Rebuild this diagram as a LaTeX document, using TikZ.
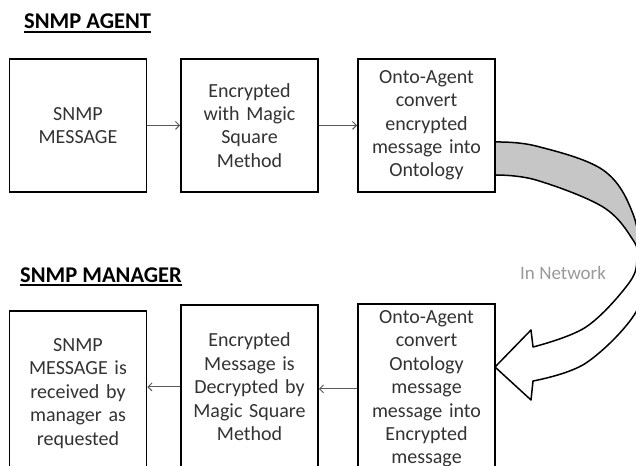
\documentclass[tikz,border=0pt]{standalone}
\usepackage{fontspec}
\setmainfont{Carlito}
\usetikzlibrary{arrows.meta,calc}
\definecolor{txt}{HTML}{333333}
\definecolor{conncol}{HTML}{595959}
\definecolor{bandgray}{HTML}{C6C6C6}
\definecolor{netgray}{HTML}{9A9A9A}
\newcommand\netarrowpath{plot[smooth,tension=0.6] coordinates {(495,142) (536,146) (603,170) (633,214) (641,268) (636,312) (586,363) (533,381)} -- (531,400) -- (495,367) -- (531,330) -- (533,347) -- plot[smooth,tension=0.6] coordinates {(533,347) (586,327) (629,283) (637,258) (633,240) (603,207) (536,180) (495,175)} -- cycle}
\begin{document}
\begin{tikzpicture}[x=1pt,y=-1pt,
  box/.style={draw=black, line width=1.8pt, text=txt, text width=128pt, align=center,
    minimum width=137pt, inner sep=3pt, font=\fontsize{20}{23.4}\selectfont, anchor=north},
  title/.style={anchor=base west, inner sep=0pt, font=\bfseries\fontsize{22.5}{27}\selectfont, text=black},
  conn/.style={draw=conncol, line width=0.9pt, -{Straight Barb[length=4pt,width=8pt]}},
  uline/.style={line width=1.4pt}]
\useasboundingbox (0,0) rectangle (636,465);
\clip (0,0) rectangle (636,465);
\fill[white] (0,0) rectangle (636,465);

% titles
\node[title] (t1) at (24,29) {SNMP AGENT};
\draw[uline] ($(t1.base west)+(0,3)$) -- ($(t1.base east)+(0,3)$);
\node[title] (t2) at (20,282) {SNMP MANAGER};
\draw[uline] ($(t2.base west)+(0,3)$) -- ($(t2.base east)+(0,3)$);

% agent row
\node[box, minimum height=133pt] (a1) at (78,58) {SNMP\\MESSAGE};
\node[box, minimum height=133pt] (a2) at (249.5,58) {Encrypted\\with Magic\\Square\\Method};
\node[box, minimum height=133pt] (a3) at (426.5,58) {Onto-Agent\\convert\\encrypted\\message into\\Ontology};
\draw[conn] (a1.east) -- (a2.west);
\draw[conn] (a2.east) -- (a3.west);

% manager row
\node[box, minimum height=165pt] (m1) at (78,310) {SNMP\\MESSAGE is\\received by\\manager as\\requested};
\node[box, minimum height=164pt] (m2) at (249.5,304) {Encrypted\\Message is\\Decrypted by\\Magic Square\\Method};
\node[box, minimum height=170pt] (m3) at (426.5,303) {Onto-Agent\\convert\\Ontology\\message\\message into\\Encrypted\\message};
\draw[conn] (m3.west) -- (m3.west -| m2.east);
\draw[conn] (m2.west) -- (m2.west -| m1.east);

% curved network arrow
\fill[white] \netarrowpath;
\begin{scope}
  \clip (480,100) rectangle (640,265);
  \fill[bandgray] \netarrowpath;
\end{scope}
\draw[line width=1.5pt, line join=round] \netarrowpath;

\node[anchor=base west, inner sep=0pt, text=netgray, font=\fontsize{19}{22}\selectfont] (net) at (520,279) {In Network};
\end{tikzpicture}
\end{document}
